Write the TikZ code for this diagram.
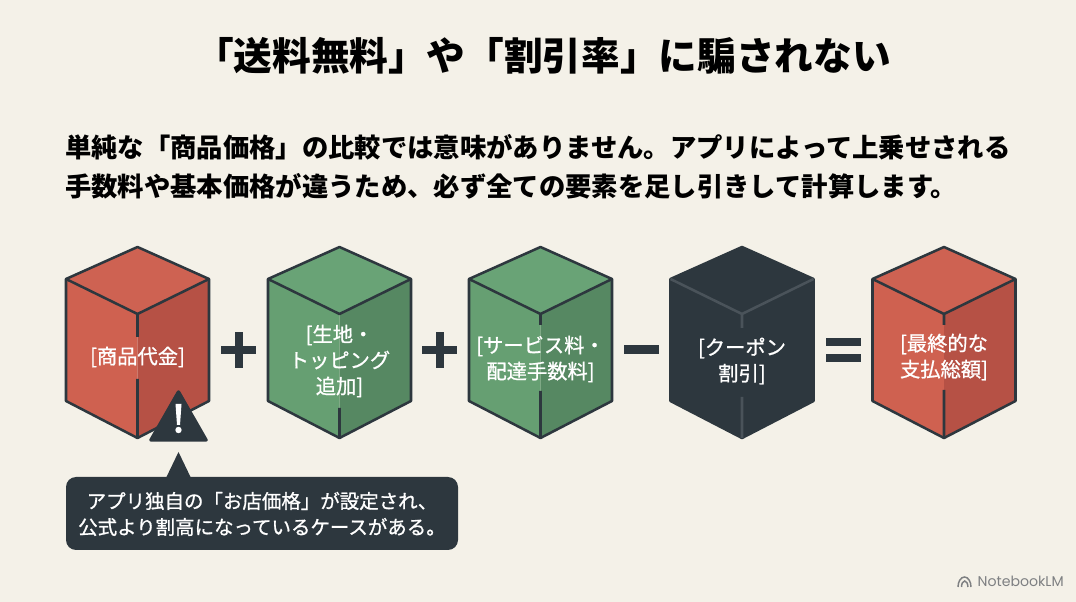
\documentclass[tikz,border=0pt]{standalone}
\usepackage{fontspec}
\setmainfont{Noto Sans CJK JP}
\newfontfamily\latinlabel{Poppins}
\newfontfamily\mediumface[FakeBold=0.9]{Noto Sans CJK JP}
\definecolor{paper}{HTML}{F4F1E8}
\definecolor{ink}{HTML}{2D373E}
\definecolor{redleft}{HTML}{CF6150}
\definecolor{redright}{HTML}{B65145}
\definecolor{redtop}{HTML}{CE6252}
\definecolor{greenleft}{HTML}{669F72}
\definecolor{greenright}{HTML}{568862}
\definecolor{greentop}{HTML}{69A376}
\definecolor{darkedge}{HTML}{4A535A}
\definecolor{markgrey}{HTML}{7E8082}
\tikzset{
  x=0.75pt,y=-0.75pt,
  edgeline/.style={line width=1.9pt,line join=round,line cap=butt},
  titletext/.style={font=\fontsize{29}{32}\selectfont\bfseries,text=black,inner sep=0},
  bodytext/.style={font=\fontsize{19.75}{24}\selectfont\bfseries,text=black,inner sep=0,anchor=west},
  cubelabel/.style={font=\mediumface\fontsize{15.2}{19.5}\selectfont,text=white,align=center,inner sep=0},
  notetext/.style={font=\mediumface\fontsize{14.6}{19.5}\selectfont,text=white,align=center,inner sep=0},
  opmark/.style={fill=ink,draw=none},
}
% Hexagonal box: centre x, top colour, left colour, right colour, edge colour,
% and the extents of the two visible pieces of the front edge
\newcommand{\isobox}[8]{%
  \fill[#3] (#1-71.5,279) -- (#1,314) -- (#1,438) -- (#1-71.5,401) -- cycle;
  \fill[#4] (#1+71.5,279) -- (#1,314) -- (#1,438) -- (#1+71.5,401) -- cycle;
  \fill[#2] (#1,247) -- (#1+71.5,279) -- (#1,314) -- (#1-71.5,279) -- cycle;
  \draw[edgeline,draw=#5] (#1,247) -- (#1+71.5,279) -- (#1+71.5,401) -- (#1,438)
     -- (#1-71.5,401) -- (#1-71.5,279) -- cycle;
  \draw[edgeline,draw=#6] (#1-71.5,279) -- (#1,314) -- (#1+71.5,279)
     (#1,314) -- (#1,#7) (#1,#8) -- (#1,438);
}
\begin{document}
\begin{tikzpicture}
\useasboundingbox (0,0) rectangle (1076,602);
\fill[paper] (0,0) rectangle (1076,602);

\node[titletext] (heading) at (543,56) {「送料無料」や「割引率」に騙されない};
\node[bodytext] (introone) at (65,147) {単純な「商品価格」の比較では意味がありません。アプリによって上乗せされる};
\node[bodytext] (introtwo) at (65,186) {手数料や基本価格が違うため、必ず全ての要素を足し引きして計算します。};

\isobox{137.5}{redtop}{redleft}{redright}{ink}{ink}{337}{379}
\isobox{339.5}{greentop}{greenleft}{greenright}{ink}{ink}{314}{408}
\isobox{540.5}{greentop}{greenleft}{greenright}{ink}{ink}{325}{391}
\isobox{742}{ink}{ink}{ink}{ink}{darkedge}{328}{397}
\isobox{944}{redtop}{redleft}{redright}{ink}{ink}{325}{390}

\node[cubelabel] (goods) at (137.5,357) {[商品代金]};
\node[cubelabel] (dough) at (339.5,361) {[生地・\\トッピング\\追加]};
\node[cubelabel] (fees) at (540.5,359) {[サービス料・\\配達手数料]};
\node[cubelabel] (coupon) at (742,361) {[クーポン\\割引]};
\node[cubelabel] (total) at (944,357) {[最終的な\\支払総額]};

% Operators between the boxes
\fill[opmark] (221,346) rectangle (256,354);
\fill[opmark] (234.5,332) rectangle (242.5,368);
\fill[opmark] (422,346) rectangle (457,354);
\fill[opmark] (435.5,332) rectangle (443.5,368);
\fill[opmark] (624,345) rectangle (659,354);
\fill[opmark] (826,338) rectangle (861,346);
\fill[opmark] (826,354) rectangle (861,362);

% Warning sign
\fill[ink,draw=ink,line width=2.6pt,line join=round] (178.5,392) -- (206,440) -- (151,440) -- cycle;
\fill[white] (175.5,404) -- (181.5,404) -- (180,425) -- (177,425) -- cycle;
\fill[white] (178.5,430) circle (3.2);

% Callout below the warning sign
\fill[ink] (166,478) -- (178.5,452) -- (191,478) -- cycle;
\fill[ink,rounded corners=7.5pt] (66,477) rectangle (458,550);
\node[notetext] (note) at (262,514) {アプリ独自の「お店価格」が設定され、\\公式より割高になっているケースがある。};

% Product mark in the lower right corner
\draw[markgrey,line width=1.1pt] (958,587) arc[start angle=180,end angle=0,x radius=6.5,y radius=-10]
  (961.5,587) arc[start angle=180,end angle=0,x radius=3.2,y radius=-6];
\node[font=\latinlabel\fontsize{10.6}{13}\selectfont,text=markgrey,inner sep=0,anchor=east] (brand) at (1064,581.5) {NotebookLM};
\end{tikzpicture}
\end{document}
